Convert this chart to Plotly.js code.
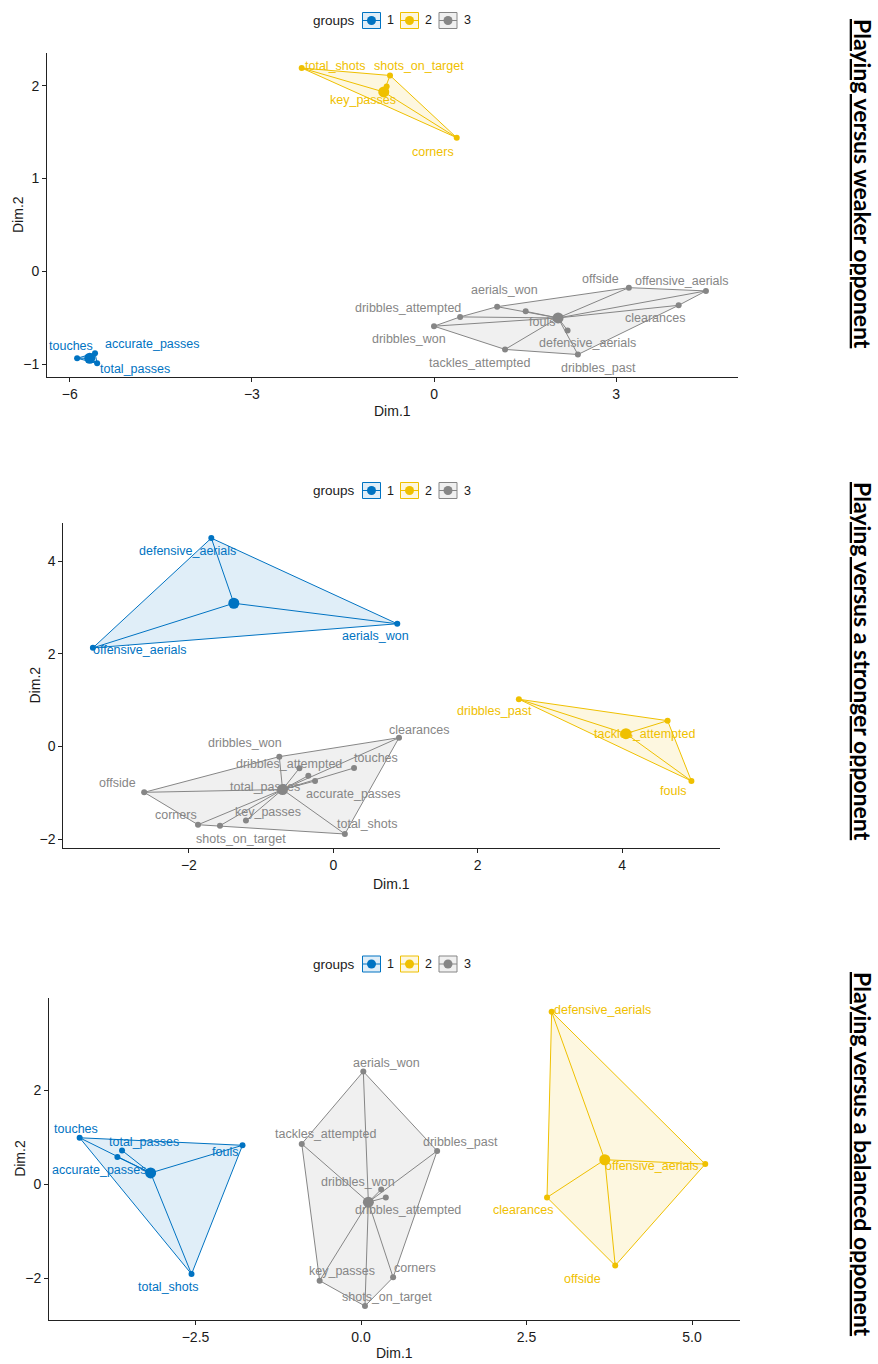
<!DOCTYPE html>
<html><head><meta charset="utf-8">
<script src="https://cdn.plot.ly/plotly-3.0.1.min.js"></script>
<style>html,body{margin:0;padding:0;background:#fff}#chart{width:878px;height:1364px}</style>
</head><body><div id="chart"></div>
<script>
// ---------- DATA ----------
const groupLabels = ["1", "2", "3"];
const groupColors = ["#0073C2", "#EFC000", "#868686"];

// Panel 1: Playing versus weaker opponent
const weakNames  = ["touches","accurate_passes","total_passes","total_shots","shots_on_target","key_passes","corners","offside","offensive_aerials","clearances","aerials_won","dribbles_attempted","dribbles_won","fouls","defensive_aerials","tackles_attempted","dribbles_past"];
const weakGroups = [1,1,1,2,2,2,2,3,3,3,3,3,3,3,3,3,3];
const weakDim1   = [-5.88,-5.585,-5.55,-2.18,-0.725,-0.78,0.374,3.21,4.48,4.03,1.04,0.43,0.0,1.51,2.2,1.17,2.37];
const weakDim2   = [-0.935,-0.88,-0.99,2.19,2.11,1.99,1.44,-0.175,-0.21,-0.365,-0.38,-0.49,-0.59,-0.43,-0.635,-0.84,-0.895];

// Panel 2: Playing versus a stronger opponent
const strongNames  = ["defensive_aerials","aerials_won","offensive_aerials","dribbles_past","tackles_attempted","fouls","clearances","dribbles_won","dribbles_attempted","total_passes","accurate_passes","touches","offside","corners","shots_on_target","key_passes","total_shots"];
const strongGroups = [1,1,1,2,2,2,3,3,3,3,3,3,3,3,3,3,3];
const strongDim1   = [-1.69,0.886,-3.33,2.57,4.63,4.96,0.91,-0.748,-0.47,-0.346,-0.253,0.287,-2.62,-1.874,-1.57,-1.21,0.16];
const strongDim2   = [4.50,2.65,2.13,1.02,0.557,-0.745,0.19,-0.22,-0.47,-0.63,-0.745,-0.464,-0.99,-1.69,-1.71,-1.60,-1.89];

// Panel 3: Playing versus a balanced opponent
const balNames  = ["touches","total_passes","accurate_passes","fouls","total_shots","defensive_aerials","offensive_aerials","clearances","offside","aerials_won","tackles_attempted","dribbles_past","dribbles_won","dribbles_attempted","key_passes","corners","shots_on_target"];
const balGroups = [1,1,1,1,1,2,2,2,2,3,3,3,3,3,3,3,3];
const balDim1   = [-4.25,-3.61,-3.68,-1.79,-2.56,2.88,5.20,2.81,3.84,0.035,-0.895,1.15,0.305,0.375,-0.625,0.485,0.06];
const balDim2   = [0.99,0.72,0.58,0.83,-1.91,3.67,0.43,-0.28,-1.73,2.40,0.86,0.71,-0.11,-0.28,-2.05,-1.98,-2.59];

const panelTitles = ["Playing versus weaker opponent","Playing versus a stronger opponent","Playing versus a balanced opponent"];
const xAxisTitle = "Dim.1", yAxisTitle = "Dim.2", legendTitle = "groups";

// ---------- LAYOUT (label nudges in px, repel-like) ----------
const weakNudge = [[-6,12],[57,9],[38,-6],[33,2],[29,9],[-24,-13],[-24,-14],[-28,9],[-24,10],[-24,-13],[7,17],[-52,9],[-25,-13],[16,-11],[20,-13],[-26,-14],[21,-13]];
const strongNudge = [[-24,-13],[-22,-12],[47,-2],[-24,-12],[-23,-13],[-18,-10],[20,8],[-34,14],[-10,4],[-43,-11],[38,-13],[22,10],[-27,9],[-22,10],[21,-13],[22,9],[22,10]];
const balNudge = [[-4,9],[22,8],[-18,-13],[-18,-7],[-24,-13],[51,2],[-53,-2],[-24,-13],[-33,-13],[23,8],[24,10],[23,9],[-23,7],[22,-13],[22,10],[22,9],[22,9]];

const W = 878, H = 1364;
const PX = x => x / W, PY = y => 1 - y / H;

const panels = [
  {names:weakNames, groups:weakGroups, d1:weakDim1, d2:weakDim2, nudge:weakNudge,
   xr:[-6.376,5.008], yr:[-1.137,2.352], box:[47,738,53,377], dtx:3, dty:1, fmt:"",
   legY:20.5, titleY:184, xtY:411, ytX:18},
  {names:strongNames, groups:strongGroups, d1:strongDim1, d2:strongDim2, nudge:strongNudge,
   xr:[-3.74,5.356], yr:[-2.186,4.82], box:[63.3,720,523.3,847.7], dtx:2, dty:2, fmt:"",
   legY:490.5, titleY:661, xtY:884, ytX:34},
  {names:balNames, groups:balGroups, d1:balDim1, d2:balDim2, nudge:balNudge,
   xr:[-4.713,5.725], yr:[-2.887,3.97], box:[49,740,997.7,1320], dtx:2.5, dty:2, fmt:".1f",
   legY:964, titleY:1154, xtY:1353, ytX:20}
];

function rgba(hex, a){
  const n = parseInt(hex.slice(1),16);
  return `rgba(${(n>>16)&255},${(n>>8)&255},${n&255},${a})`;
}
function convexHull(P){
  const pts = P.slice().sort((a,b)=>a[0]-b[0]||a[1]-b[1]);
  if (pts.length < 3) return pts;
  const cr=(o,a,b)=>(a[0]-o[0])*(b[1]-o[1])-(a[1]-o[1])*(b[0]-o[0]);
  const lo=[]; for(const p of pts){while(lo.length>=2&&cr(lo[lo.length-2],lo[lo.length-1],p)<=0)lo.pop();lo.push(p);}
  const up=[]; for(let i=pts.length-1;i>=0;i--){const p=pts[i];while(up.length>=2&&cr(up[up.length-2],up[up.length-1],p)<=0)up.pop();up.push(p);}
  lo.pop(); up.pop(); return lo.concat(up);
}

const traces = [], annotations = [], shapes = [];
const layout = {width:W, height:H, margin:{l:0,r:0,t:0,b:0}, showlegend:false,
  paper_bgcolor:"#fff", plot_bgcolor:"rgba(0,0,0,0)", font:{family:"Arial, Liberation Sans, sans-serif"}};

const FILL_A = 0.12;
panels.forEach((pn, k) => {
  const s = k === 0 ? "" : String(k+1);
  const xa = "x"+s, ya = "y"+s;
  const [L,R,T,B] = pn.box;
  const axBase = {showgrid:false, zeroline:false, showline:true, linecolor:"#222", linewidth:1,
    ticks:"outside", ticklen:4, tickwidth:1, tickcolor:"#222", fixedrange:true,
    tickfont:{family:"Arial, Liberation Sans, sans-serif", size:14, color:"#1a1a1a"}};
  layout["xaxis"+s] = Object.assign({}, axBase, {domain:[PX(L),PX(R)], range:pn.xr, tick0:0, dtick:pn.dtx, tickformat:pn.fmt, anchor:ya});
  layout["yaxis"+s] = Object.assign({}, axBase, {domain:[PY(B),PY(T)], range:pn.yr, tick0:0, dtick:pn.dty, anchor:xa});

  // polygons
  const gIdx = [1,2,3].map(g => pn.groups.map((v,i)=>v===g?i:-1).filter(i=>i>=0));
  gIdx.forEach((idx, gi) => {
    const col = groupColors[gi];
    const hull = convexHull(idx.map(i=>[pn.d1[i], pn.d2[i]]));
    traces.push({type:"scatter", mode:"lines", xaxis:xa, yaxis:ya, hoverinfo:"skip",
      x: hull.map(p=>p[0]).concat([hull[0][0]]), y: hull.map(p=>p[1]).concat([hull[0][1]]),
      fill:"toself", fillcolor:rgba(col, FILL_A), line:{color:col, width:1}});
  });
  gIdx.forEach((idx, gi) => {
    const col = groupColors[gi];
    const cx = idx.reduce((a,i)=>a+pn.d1[i],0)/idx.length;
    const cy = idx.reduce((a,i)=>a+pn.d2[i],0)/idx.length;
    const sx=[], sy=[];
    idx.forEach(i=>{sx.push(cx, pn.d1[i], null); sy.push(cy, pn.d2[i], null);});
    traces.push({type:"scatter", mode:"lines", xaxis:xa, yaxis:ya, hoverinfo:"skip", x:sx, y:sy, line:{color:col, width:1}});
    traces.push({type:"scatter", mode:"markers", xaxis:xa, yaxis:ya, x:idx.map(i=>pn.d1[i]), y:idx.map(i=>pn.d2[i]),
      text:idx.map(i=>pn.names[i]), marker:{color:col, size:6}});
    traces.push({type:"scatter", mode:"markers", xaxis:xa, yaxis:ya, x:[cx], y:[cy], hoverinfo:"skip", marker:{color:col, size:11}});
    idx.forEach(i=>{
      annotations.push({x:pn.d1[i], y:pn.d2[i], xref:xa, yref:ya, text:pn.names[i], showarrow:false,
        xshift:pn.nudge[i][0], yshift:pn.nudge[i][1], font:{family:"Arial, Liberation Sans, sans-serif", size:12.5, color:col}});
    });
  });

  // axis titles
  annotations.push({x:PX((L+R)/2), y:PY(pn.xtY), xref:"paper", yref:"paper", text:xAxisTitle, showarrow:false,
    xanchor:"center", yanchor:"middle", font:{size:14, color:"#1a1a1a"}});
  annotations.push({x:PX(pn.ytX), y:PY((T+B)/2), xref:"paper", yref:"paper", text:yAxisTitle, showarrow:false, textangle:-90,
    xanchor:"center", yanchor:"middle", font:{size:14, color:"#1a1a1a"}});

  // legend
  const ly = pn.legY;
  annotations.push({x:PX(334), y:PY(ly), xref:"paper", yref:"paper", text:legendTitle, showarrow:false,
    xanchor:"center", yanchor:"middle", font:{size:13.5, color:"#1a1a1a"}});
  const boxX = [371.5, 409.5, 448], numX = [390, 428.5, 467];
  groupColors.forEach((col, gi) => {
    const bx = boxX[gi];
    shapes.push({type:"rect", xref:"paper", yref:"paper", x0:PX(bx-9), x1:PX(bx+9), y0:PY(ly+8), y1:PY(ly-8),
      fillcolor:rgba(col, FILL_A), line:{color:col, width:1}});
    shapes.push({type:"line", xref:"paper", yref:"paper", x0:PX(bx-9), x1:PX(bx+9), y0:PY(ly), y1:PY(ly), line:{color:col, width:1}});
    shapes.push({type:"circle", xref:"paper", yref:"paper", x0:PX(bx-4.5), x1:PX(bx+4.5), y0:PY(ly+4.5), y1:PY(ly-4.5),
      fillcolor:col, line:{color:col, width:0}});
    annotations.push({x:PX(numX[gi]), y:PY(ly), xref:"paper", yref:"paper", text:groupLabels[gi], showarrow:false,
      xanchor:"center", yanchor:"middle", font:{size:12.5, color:"#1a1a1a"}});
  });

  // right-side panel title
  annotations.push({x:PX(863), y:PY(pn.titleY), xref:"paper", yref:"paper", text:"<b><u>"+panelTitles[k]+"</u></b>",
    showarrow:false, textangle:90, xanchor:"center", yanchor:"middle",
    font:{family:"Lato, Open Sans, sans-serif", size:23, color:"#000"}});
});

layout.annotations = annotations;
layout.shapes = shapes;
Plotly.newPlot("chart", traces, layout, {displayModeBar:false, staticPlot:true});
</script></body></html>
